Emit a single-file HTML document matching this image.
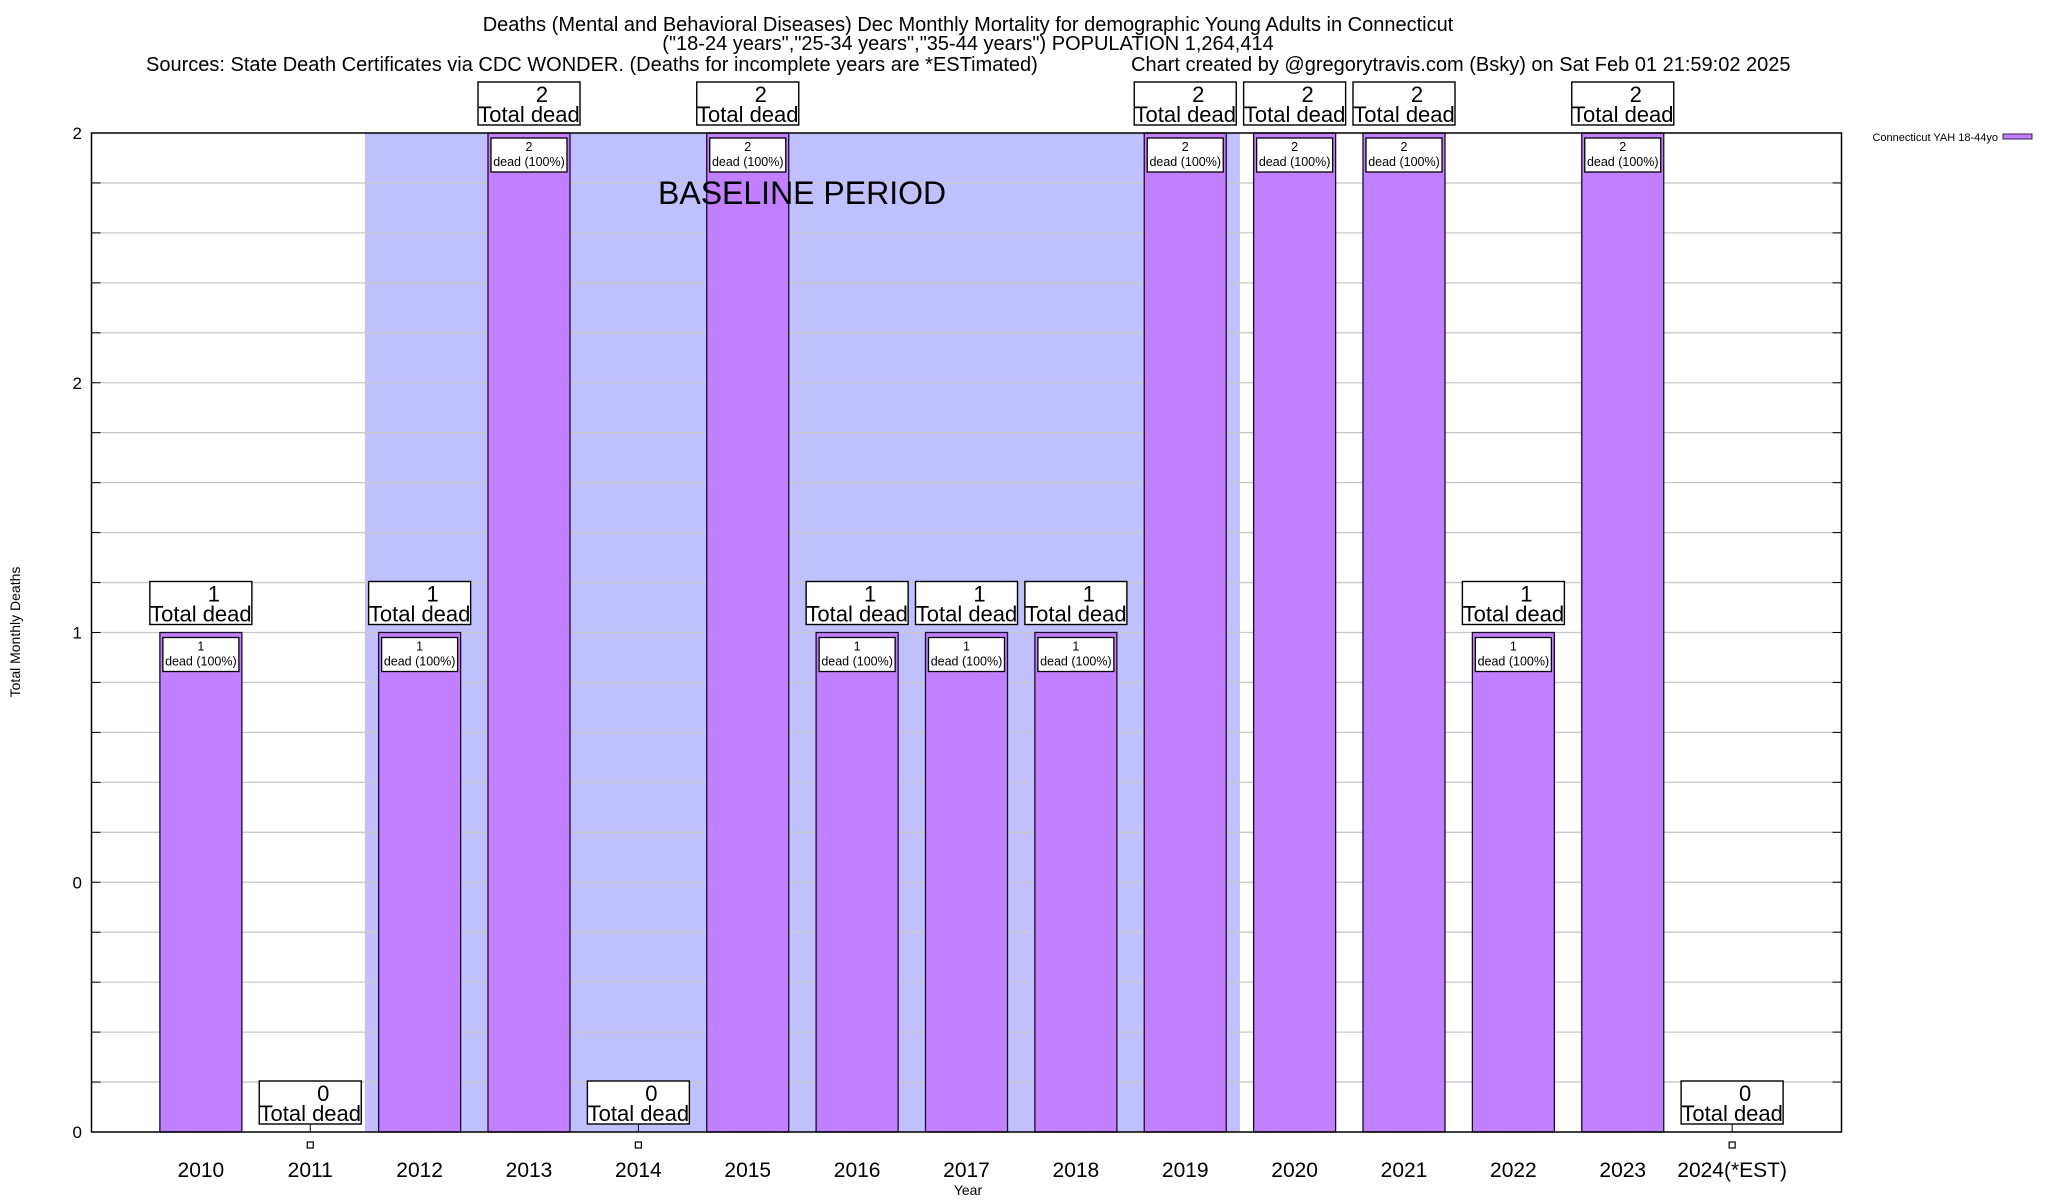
<!DOCTYPE html>
<html><head><meta charset="utf-8"><style>
html,body{margin:0;padding:0;background:#fff;}
svg{display:block;font-family:"Liberation Sans",Arial,sans-serif;}
</style></head><body>
<svg id="chart" width="2048" height="1200" viewBox="0 0 2048 1200" xmlns="http://www.w3.org/2000/svg">
<g font-size="20" text-anchor="middle" fill="#000">
<text x="968" y="31">Deaths (Mental and Behavioral Diseases) Dec Monthly Mortality for demographic Young Adults in Connecticut</text>
<text x="968" y="50">("18-24 years","25-34 years","35-44 years") POPULATION 1,264,414</text>
<text x="146" y="71" text-anchor="start">Sources: State Death Certificates via CDC WONDER. (Deaths for incomplete years are *ESTimated)</text>
<text x="1131" y="71" text-anchor="start">Chart created by @gregorytravis.com (Bsky) on Sat Feb 01 21:59:02 2025</text>
</g>
<g id="plot"></g>
<text x="20" y="632" font-size="14" text-anchor="middle" transform="rotate(-90 20 632)">Total Monthly Deaths</text>
<text x="968" y="1195" font-size="14" text-anchor="middle">Year</text>
<g>
<text x="1998" y="141" font-size="11" text-anchor="end">Connecticut YAH 18-44yo</text>
<rect x="2003" y="134" width="29" height="5" fill="#c080ff" stroke="#3a1a5a" stroke-width="1"/>
</g>
</svg>
<script>
const categories = ["2010","2011","2012","2013","2014","2015","2016","2017","2018","2019","2020","2021","2022","2023","2024(*EST)"];
const deaths = [1,0,1,2,0,2,1,1,1,2,2,2,1,2,0];
const yTickValues = [0,0.5,1,1.5,2];
const yTickLabels = ["0","0","1","2","2"];
const baselineStart = "2012";
const baselineEnd = "2019";

const L=91.5,R=1841.5,T=133,B=1132,yMax=2;
const step=(R-L)/(categories.length+1);
const xPos=i=>L+(i+1)*step;
const yPos=v=>B-(v/yMax)*(B-T);
const NS="http://www.w3.org/2000/svg";
const plot=document.getElementById('plot');
function mk(tag,attrs,parent){const e=document.createElementNS(NS,tag);for(const k in attrs)e.setAttribute(k,attrs[k]);(parent||plot).appendChild(e);return e;}

// baseline shading
const bs=categories.indexOf(baselineStart),be=categories.indexOf(baselineEnd);
const shade=mk('rect',{x:xPos(bs)-step/2,y:T,width:xPos(be)-xPos(bs)+step,height:B-T,fill:'#c0c0ff'});



// grid
for(let k=1;k<20;k++){
  const v=k*0.1;
  const g=mk('line',{x1:L,x2:R,y1:yPos(v),y2:yPos(v),stroke:'#c8c8c8','stroke-width':1.3});
  
  
  mk('line',{x1:L,x2:L+9,y1:yPos(v),y2:yPos(v),stroke:'#000','stroke-width':1});
  mk('line',{x1:R-9,x2:R,y1:yPos(v),y2:yPos(v),stroke:'#000','stroke-width':1});
}
// y ticks labels
yTickValues.forEach((v,i)=>{
  const t=mk('text',{x:82,y:yPos(v)+6,'font-size':17,'text-anchor':'end'});
  t.textContent=yTickLabels[i];
  
  
});

const bw=82;
categories.forEach((c,i)=>{
  const x=xPos(i),v=deaths[i];
  const lab=mk('text',{x:x,y:1177,'font-size':21,'text-anchor':'middle'});
  lab.textContent=c;
  
  
  if(v>0){
    const b=mk('rect',{x:x-bw/2,y:yPos(v),width:bw,height:B-yPos(v),fill:'#c080ff',stroke:'#1a0a2a','stroke-width':1.3});
    
    
    const ib=mk('rect',{x:x-bw/2+3,y:yPos(v)+5,width:bw-6,height:34,fill:'#fff',stroke:'#000','stroke-width':1.3});
    
    
    const t1=mk('text',{x:x,y:yPos(v)+18,'font-size':12.5,'text-anchor':'middle'});t1.textContent=v;
    const t2=mk('text',{x:x,y:yPos(v)+33,'font-size':12.5,'text-anchor':'middle'});t2.textContent='dead (100%)';
  } else {
    mk('line',{x1:x,x2:x,y1:B-8,y2:B,stroke:'#000','stroke-width':1});
    const sq=mk('rect',{x:x-3,y:1142,width:6,height:6,fill:'#fff',stroke:'#000','stroke-width':1.2});
    
    
  }
  const by=yPos(v)-50;
  const box=mk('rect',{x:x-51,y:by-1,width:102,height:43,fill:'#fff',stroke:'#000','stroke-width':1.4});
  
  
  const a=mk('text',{x:x+13,y:by+19,'font-size':22,'text-anchor':'middle'});a.textContent=v;
  const d=mk('text',{x:x,y:by+39,'font-size':22,'text-anchor':'middle'});d.textContent='Total dead';
});
const bl=mk('text',{x:658,y:204,'font-size':32});
bl.textContent='BASELINE PERIOD';


// axis frame
const fr=mk('rect',{x:L,y:T,width:R-L,height:B-T,fill:'none',stroke:'#000','stroke-width':1.5});


</script>
</body></html>
